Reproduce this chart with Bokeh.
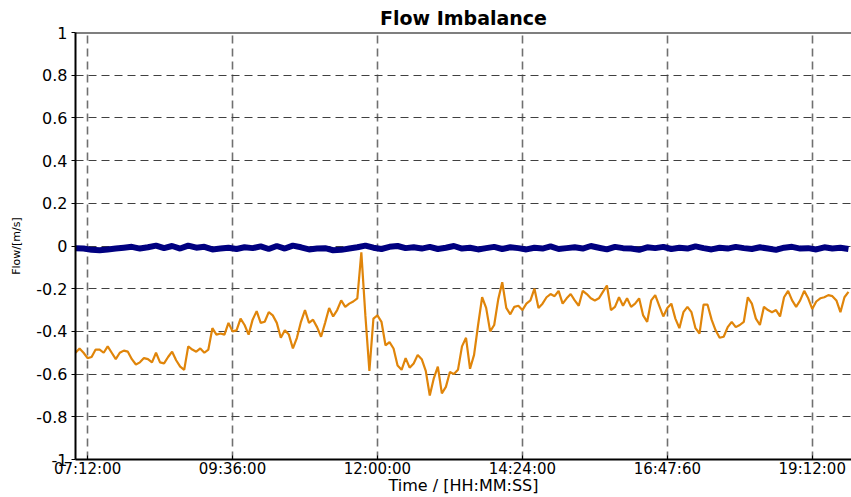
from bokeh.plotting import figure
from bokeh.models import FixedTicker, Span, Range1d
from bokeh.embed import file_html
from bokeh.resources import INLINE

# ---- data (minutes since midnight) ----
orange_start = 420      # 07:00:00
orange_step = 4         # minutes between samples
orange_values = [
    -0.50, -0.48, -0.50, -0.525, -0.52, -0.485, -0.485, -0.50, -0.47, -0.50,
    -0.53, -0.50, -0.49, -0.495, -0.53, -0.555, -0.545, -0.525, -0.53, -0.545,
    -0.50, -0.545, -0.55, -0.52, -0.495, -0.535, -0.565, -0.58, -0.47, -0.485,
    -0.495, -0.48, -0.50, -0.485, -0.385, -0.415, -0.41, -0.415, -0.36, -0.40,
    -0.395, -0.34, -0.37, -0.415, -0.345, -0.305, -0.36, -0.355, -0.31, -0.325,
    -0.36, -0.43, -0.395, -0.415, -0.48, -0.43, -0.355, -0.30, -0.36, -0.345,
    -0.38, -0.425, -0.36, -0.29, -0.33, -0.30, -0.255, -0.285, -0.27, -0.26,
    -0.245, -0.03, -0.325, -0.585, -0.34, -0.325, -0.355, -0.465, -0.45, -0.48,
    -0.56, -0.58, -0.525, -0.57, -0.55, -0.51, -0.53, -0.585, -0.70, -0.62,
    -0.565, -0.69, -0.66, -0.59, -0.60, -0.58, -0.47, -0.43, -0.575, -0.51,
    -0.37, -0.24, -0.29, -0.40, -0.37, -0.25, -0.17, -0.29, -0.32, -0.285,
    -0.28, -0.30, -0.27, -0.255, -0.20, -0.29, -0.27, -0.24, -0.225, -0.235,
    -0.21, -0.27, -0.245, -0.225, -0.255, -0.28, -0.21, -0.225, -0.245, -0.255,
    -0.245, -0.215, -0.185, -0.30, -0.285, -0.24, -0.28, -0.245, -0.285, -0.27,
    -0.245, -0.325, -0.355, -0.255, -0.23, -0.28, -0.33, -0.29, -0.27, -0.34,
    -0.385, -0.31, -0.285, -0.31, -0.385, -0.41, -0.275, -0.275, -0.345, -0.395,
    -0.43, -0.425, -0.38, -0.355, -0.38, -0.37, -0.355, -0.24, -0.27, -0.34,
    -0.37, -0.285, -0.30, -0.31, -0.30, -0.33, -0.24, -0.21, -0.255, -0.285,
    -0.255, -0.21, -0.245, -0.295, -0.26, -0.245, -0.24, -0.23, -0.235, -0.255,
    -0.31, -0.24, -0.215,
]

blue_start = 420
blue_step = 8
blue_values = [
    -0.010, -0.012, -0.018, -0.020, -0.016, -0.012, -0.008, -0.004, -0.012, -0.006,
    0.002, -0.010, 0.000, -0.012, 0.002, -0.008, -0.004, -0.016, -0.012, -0.008,
    -0.014, -0.006, -0.010, -0.002, -0.014, 0.000, -0.012, 0.002, -0.006, -0.016,
    -0.012, -0.010, -0.020, -0.018, -0.012, -0.006, 0.002, -0.008, -0.014, -0.004,
    0.000, -0.010, -0.006, -0.012, -0.004, -0.014, -0.008, 0.000, -0.012, -0.008,
    -0.016, -0.010, -0.004, -0.014, -0.006, -0.010, -0.016, -0.008, -0.012, -0.002,
    -0.014, -0.010, -0.006, -0.012, 0.000, -0.008, -0.016, -0.004, -0.010, -0.012,
    -0.018, -0.006, -0.010, -0.004, -0.014, -0.008, -0.012, -0.002, -0.010, -0.016,
    -0.008, -0.012, -0.004, -0.010, -0.014, -0.006, -0.012, -0.018, -0.008, -0.004,
    -0.012, -0.010, -0.016, -0.006, -0.012, -0.008, -0.014,
]

x_ticks = [432, 576, 720, 864, 1008, 1152]
x_labels = ["07:12:00", "09:36:00", "12:00:00", "14:24:00", "16:47:60", "19:12:00"]
y_ticks = [-1, -0.8, -0.6, -0.4, -0.2, 0, 0.2, 0.4, 0.6, 0.8, 1]
y_labels = ["-1", "-0.8", "-0.6", "-0.4", "-0.2", "0", "0.2", "0.4", "0.6", "0.8", "1"]

orange_x = [orange_start + orange_step * i for i in range(len(orange_values))]
blue_x = [blue_start + blue_step * i for i in range(len(blue_values))]

FONT = "DejaVu Sans"
X0, X1 = 420, 1191

p = figure(width=851, height=497, output_backend="svg", toolbar_location=None,
           x_range=Range1d(X0, X1), y_range=Range1d(-1, 1),
           min_border_left=75, min_border_right=0, min_border_top=32,
           min_border_bottom=35, background_fill_color="white",
           border_fill_color="white")
p.outline_line_color = None

p.title.text = "Flow Imbalance"
p.title.align = "center"
p.title.text_font = FONT
p.title.text_font_size = "19px"
p.title.text_font_style = "bold"
p.title.text_color = "black"
p.title.standoff = 7
p.title.offset = 0

# grids
p.xgrid.ticker = FixedTicker(ticks=x_ticks)
p.ygrid.ticker = FixedTicker(ticks=y_ticks)
p.xgrid.grid_line_color = "#707070"
p.xgrid.grid_line_width = 1.6
p.xgrid.grid_line_dash = "8 5"
p.ygrid.grid_line_color = "#404040"
p.ygrid.grid_line_width = 1.2
p.ygrid.grid_line_dash = "8 5"

# data lines
p.line(blue_x, blue_values, line_color="#000080", line_width=6)
p.line(orange_x, orange_values, line_color="#E0850A", line_width=2.2)

# top border
p.add_layout(Span(location=1, dimension="width", line_color="black", line_width=2))

# axes
xa = p.xaxis[0]
xa.ticker = FixedTicker(ticks=x_ticks)
xa.major_label_overrides = dict(zip(x_ticks, x_labels))
xa.axis_label = "Time / [HH:MM:SS]"
xa.axis_label_text_font = FONT
xa.axis_label_text_font_size = "16px"
xa.axis_label_text_font_style = "normal"
xa.axis_label_text_color = "black"
xa.axis_label_standoff = -5
xa.major_label_text_font = FONT
xa.major_label_text_font_size = "15px"
xa.major_label_standoff = 0
xa.major_tick_in = 4
xa.major_tick_out = 0
xa.minor_tick_line_color = None
xa.axis_line_width = 2
xa.major_tick_line_width = 1
xa.major_label_text_color = "black"

ya = p.yaxis[0]
ya.ticker = FixedTicker(ticks=y_ticks)
ya.major_label_overrides = dict(zip(y_ticks, y_labels))
ya.axis_label = "Flow/[m/s]"
ya.axis_label_text_font = FONT
ya.axis_label_text_font_size = "11px"
ya.axis_label_text_font_style = "normal"
ya.axis_label_text_color = "black"
ya.axis_label_standoff = 10
ya.major_label_text_font = FONT
ya.major_label_text_font_size = "16px"
ya.major_label_standoff = 4
ya.major_tick_in = 0
ya.major_tick_out = 4
ya.minor_tick_line_color = None
ya.axis_line_width = 2
ya.major_label_text_color = "black"

open("out.html", "w").write(file_html(p, INLINE))
